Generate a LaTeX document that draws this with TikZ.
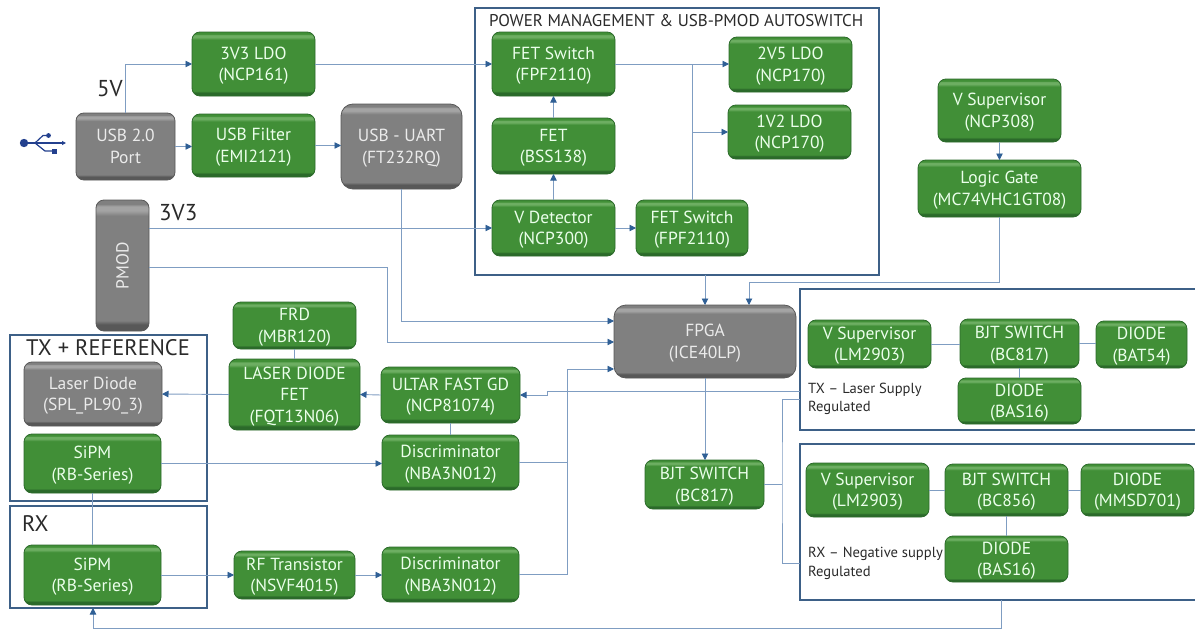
\documentclass[tikz,border=0pt]{standalone}
\usepackage{fontspec}
\usepackage{graphicx}
\setmainfont{PT Sans}
\usetikzlibrary{arrows.meta}
\definecolor{gmain}{HTML}{418F37}
\definecolor{gdark}{HTML}{2B6A2A}
\definecolor{glight}{HTML}{6DAE62}
\definecolor{kmain}{HTML}{808080}
\definecolor{kdark}{HTML}{585858}
\definecolor{klight}{HTML}{A4A4A4}
\definecolor{wire}{HTML}{7F9DC2}
\definecolor{tip}{HTML}{2F5F95}
\definecolor{frame}{HTML}{3D6087}
\definecolor{usbblue}{HTML}{23408E}
\definecolor{lab}{HTML}{2A2A2A}
\pgfdeclareverticalshading{gbevel}{100bp}{color(0bp)=(gdark); color(25bp)=(gdark); color(27.5bp)=(gdark); color(29bp)=(gmain); color(69bp)=(gmain); color(71bp)=(glight); color(72.5bp)=(glight); color(73.5bp)=(gmain); color(75bp)=(gmain); color(100bp)=(gmain)}
\pgfdeclareverticalshading{kbevel}{100bp}{color(0bp)=(kdark); color(25bp)=(kdark); color(27.5bp)=(kdark); color(29bp)=(kmain); color(69bp)=(kmain); color(71bp)=(klight); color(72.5bp)=(klight); color(73.5bp)=(kmain); color(75bp)=(kmain); color(100bp)=(kmain)}
\tikzset{
  x=1pt,y=-1pt,
  pos/.style n args={4}{minimum width={(#3-#1)*1pt},minimum height={(#4-#2)*1pt},at={({(#1+#3)/2},{(#2+#4)/2})}},
  boxbase/.style={rectangle,rounded corners=8pt,inner sep=0pt,outer sep=0pt,align=center,line width=0.8pt,
    font=\fontsize{17.5}{21.5}\selectfont,text depth=0pt},
  gbox/.style={boxbase,shading=gbevel,draw=gdark,text=white!92!green},
  kbox/.style={boxbase,shading=kbevel,draw=kdark,text=white!92!black},
  region/.style={rectangle,draw=frame,line width=1.2pt,inner sep=0pt,outer sep=0pt},
  wireline/.style={draw=wire,line width=0.9pt},
  arrowline/.style={wireline,-{Triangle[length=6.5pt,width=6.5pt,color=tip]}},
  heading/.style={text=lab,inner sep=0pt,font=\fontsize{22.5}{24}\selectfont},
  volt/.style={text=lab,inner sep=0pt,font=\fontsize{23}{26}\selectfont},
  note/.style={text=lab,inner sep=0pt,align=left,font=\fontsize{14.6}{18.5}\selectfont},
}
\begin{document}
\begin{tikzpicture}
\useasboundingbox (0,0) rectangle (1195,629);
% regions
\node[region,pos={475}{8}{879}{275}] (pw) {};
\node[region,pos={10}{335}{207}{501}] (tx) {};
\node[region,pos={10}{506}{207}{608}] (rx) {};
\node[region,pos={800}{289}{1197}{430}] (txreg) {};
\node[region,pos={800}{444}{1197}{600}] (rxreg) {};
% free ends
\coordinate (fa) at (614,321);
\coordinate (fb) at (614,342);
\coordinate (fc) at (614,369);
\coordinate (ft) at (749,305);
\coordinate (fu) at (749,282);
\coordinate (bus) at (567,369);
\coordinate (txa) at (800,391);
\coordinate (txj) at (547,391);
\coordinate (txb) at (800,399);
\coordinate (rxb) at (800,563);
\coordinate (vj) at (782,484);
\coordinate (rxd) at (1001.5,600);
\coordinate (bot) at (93,628);
\coordinate (rxin) at (93,608);
\coordinate (pm3) at (149,228);
\coordinate (pm4) at (149,267);
\coordinate (pm5) at (387,267);
% nodes
\node[kbox,pos={76}{113}{175}{180}] (usb) {USB 2.0\\Port};
\node[gbox,pos={192}{32}{315}{96}] (ldo) {3V3 LDO\\(NCP161)};
\node[gbox,pos={192}{114}{315}{177}] (filt) {USB Filter\\(EMI2121)};
\node[kbox,rounded corners=12pt,pos={341}{104}{462}{189}] (uart) {USB - UART\\(FT232RQ)};
\node[kbox,pos={96}{200}{149}{331}] (pmod) {\rotatebox{90}{PMOD}};
\node[gbox,pos={492}{32}{615}{96}] (sw1) {FET Switch\\(FPF2110)};
\node[gbox,pos={492}{118}{615}{174}] (fet) {FET\\(BSS138)};
\node[gbox,pos={492}{200}{615}{256}] (det) {V Detector\\(NCP300)};
\node[gbox,pos={636}{200}{748}{256}] (sw2) {FET Switch\\(FPF2110)};
\node[gbox,pos={729}{37}{852}{92}] (ldoa) {2V5 LDO\\(NCP170)};
\node[gbox,pos={728}{105}{851}{159}] (ldob) {1V2 LDO\\(NCP170)};
\node[gbox,pos={938}{79}{1061}{142}] (sup) {V Supervisor\\(NCP308)};
\node[gbox,pos={918}{160}{1081}{217}] (logic) {Logic Gate\\(MC74VHC1GT08)};
\node[kbox,rounded corners=12pt,pos={614}{305}{796}{378}] (fpga) {FPGA\\(ICE40LP)};
\node[gbox,pos={233}{302}{356}{349}] (frd) {FRD\\(MBR120)};
\node[gbox,pos={229}{359}{360}{430}] (lfet) {LASER DIODE\\FET\\(FQT13N06)};
\node[kbox,pos={24}{362}{162}{426}] (laser) {Laser Diode\\(SPL\_PL90\_3)};
\node[gbox,pos={24}{434}{161}{493}] (sipma) {SiPM\\(RB-Series)};
\node[gbox,pos={24}{545}{161}{605}] (sipmb) {SiPM\\(RB-Series)};
\node[gbox,pos={234}{551}{355}{599}] (rf) {RF Transistor\\(NSVF4015)};
\node[gbox,pos={381}{367}{520}{423}] (gd) {ULTAR FAST GD\\(NCP81074)};
\node[gbox,pos={382}{435}{519}{490}] (disa) {Discriminator\\(NBA3N012)};
\node[gbox,pos={382}{547}{519}{602}] (disb) {Discriminator\\(NBA3N012)};
\node[gbox,pos={645}{460}{764}{509}] (bjt) {BJT SWITCH\\(BC817)};
\node[gbox,pos={808}{320}{931}{368}] (supa) {V Supervisor\\(LM2903)};
\node[gbox,pos={960}{319}{1079}{368}] (bjta) {BJT SWITCH\\(BC817)};
\node[gbox,pos={1096}{321}{1187}{368}] (dioa) {DIODE\\(BAT54)};
\node[gbox,pos={958}{378}{1081}{424}] (diob) {DIODE\\(BAS16)};
\node[gbox,pos={806}{463}{929}{517}] (supb) {V Supervisor\\(LM2903)};
\node[gbox,pos={945}{464}{1068}{516}] (bjtb) {BJT SWITCH\\(BC856)};
\node[gbox,pos={1081}{464}{1194}{516}] (dioc) {DIODE\\(MMSD701)};
\node[gbox,pos={945}{536}{1068}{582}] (diod) {DIODE\\(BAS16)};
% connectors
\draw[arrowline] (usb.north) |- (ldo.west);
\draw[arrowline] (usb.east) -- (usb.east -| filt.west);
\draw[arrowline] (filt.east) -- (filt.east -| uart.west);
\draw[arrowline] (ldo.east) -- (sw1.west);
\draw[arrowline] (sw1.east) -- (sw1.east -| ldoa.west);
\draw[wireline] (sw2.north) -- (sw2.north |- sw1.east);
\draw[arrowline] (sw2.north |- ldob.west) -- (ldob.west);
\draw[arrowline] (det.north) -- (fet.south);
\draw[arrowline] (fet.north) -- (sw1.south);
\draw[arrowline] (pm3) -- (det.west);
\draw[arrowline] (det.east) -- (sw2.west);
\draw[arrowline] (sup.south) -- (sup.south |- logic.north);
\draw[arrowline] (logic.south) |- (fu) -- (ft);
\draw[arrowline] (pw.south -| fpga.north) -- (fpga.north);
\draw[arrowline] (uart.south) |- (fa);
\draw[arrowline] (pm4) -- (pm5) |- (fb);
\draw[arrowline] (disb.east) -| (bus) -- (fc);
\draw[wireline] (disa.east) -- (disa.east -| bus);
\draw[arrowline] (txa) -- (txj) |- (gd.east);
\draw[arrowline] (gd.west) -- (lfet.east);
\draw[arrowline] (lfet.west) -- (laser.east);
\draw[wireline] (frd.south) -- (lfet.north -| frd.south);
\draw[wireline] (gd.south) -- (disa.north);
\draw[arrowline] (sipma.east) -- (sipma.east -| disa.west);
\draw[arrowline] (sipmb.east) -- (sipmb.east -| rf.west);
\draw[arrowline] (rf.east) -- (rf.east -| disb.west);
\draw[wireline] (sipma.south) -- (sipmb.north);
\draw[arrowline] (fpga.south) -- (fpga.south |- bjt.north);
\draw[wireline] (bjt.east) -- (bjt.east -| vj);
\draw[wireline] (txb) -| (vj) |- (rxb);
\draw[wireline] (supa.east) -- (supa.east -| bjta.west);
\draw[wireline] (bjta.east) -- (bjta.east -| dioa.west);
\draw[wireline] (bjta.south) -- (bjta.south |- diob.north);
\draw[wireline] (supb.east) -- (supb.east -| bjtb.west);
\draw[wireline] (bjtb.east) -- (bjtb.east -| dioc.west);
\draw[wireline] (bjtb.south) -- (diod.north);
\draw[arrowline] (rxd) |- (bot) -- (rxin);
% labels
\node[heading,anchor=west,font=\fontsize{17}{20}\selectfont] (pwt) at (489,21) {POWER MANAGEMENT \& USB-PMOD AUTOSWITCH};
\node[heading,anchor=west] (txt) at (26,348) {TX + REFERENCE};
\node[heading,anchor=west] (rxt) at (22,524) {RX};
\node[volt,anchor=west] (vfive) at (97,89) {5V};
\node[volt,anchor=west] (vthree) at (159,213) {3V3};
\node[note,anchor=west] (txn) at (808,399) {TX – Laser Supply\\Regulated};
\node[note,anchor=west] (rxn) at (808,563.5) {RX – Negative supply\\Regulated};
% USB symbol
\begin{scope}[usbblue]
\fill (24,143) circle (4.2);
\draw[line width=1.2pt,-{Triangle[length=4pt,width=4pt]}] (24,143) -- (66,143);
\draw[line width=1.2pt] (35,143) -- (43,135.5) -- (48,135.5);
\fill (48.5,135.5) circle (2.4);
\draw[line width=1.2pt] (35,143) -- (45,151) -- (53,151);
\fill (52,149) rectangle (57,153.5);
\end{scope}
\end{tikzpicture}
\end{document}
